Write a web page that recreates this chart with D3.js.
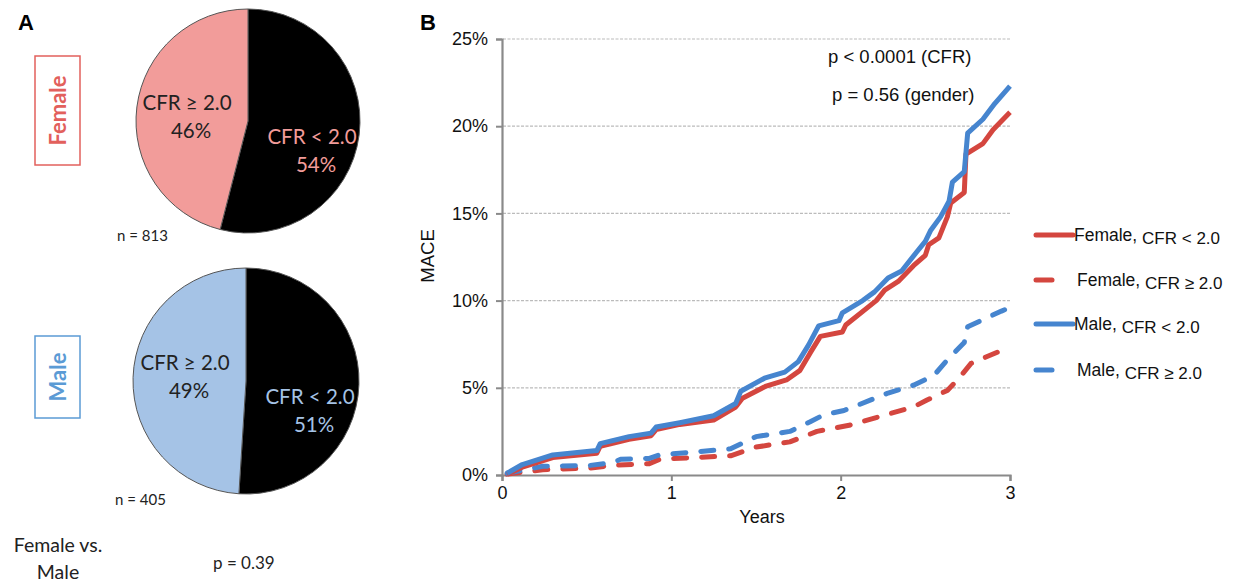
<!DOCTYPE html>
<html>
<head>
<meta charset="utf-8">
<script src="https://cdn.jsdelivr.net/npm/d3@7"></script>
<style>
body { margin: 0; background: #fff; }
svg { display: block; }
</style>
</head>
<body>
<svg id="chart" width="1240" height="584"></svg>
<script>
// panel A data
var pieCategories = ["CFR < 2.0", "CFR ≥ 2.0"];
var femaleShares = [54, 46];
var maleShares = [51, 49];
var femaleN = 813, maleN = 405;

// panel B data (years, MACE %)
var femaleLowYears = [0.03, 0.12, 0.3, 0.56, 0.58, 0.75, 0.88, 0.91, 1.05, 1.25, 1.38, 1.42, 1.56, 1.68, 1.76, 1.82, 1.88, 2.01, 2.03, 2.21, 2.26, 2.34, 2.43, 2.5, 2.52, 2.58, 2.63, 2.65, 2.73, 2.74, 2.84, 2.9, 3.0];
var femaleLowVals = [0.05, 0.45, 1.0, 1.25, 1.65, 2.05, 2.25, 2.6, 2.9, 3.15, 3.9, 4.4, 5.1, 5.45, 6.0, 7.0, 7.95, 8.2, 8.6, 10.0, 10.6, 11.1, 12.0, 12.6, 13.2, 13.6, 14.8, 15.6, 16.2, 18.4, 19.0, 19.8, 20.8];
var maleLowYears = [0.03, 0.12, 0.3, 0.56, 0.58, 0.75, 0.88, 0.91, 1.05, 1.25, 1.38, 1.41, 1.55, 1.67, 1.75, 1.81, 1.87, 1.99, 2.01, 2.13, 2.2, 2.28, 2.36, 2.45, 2.5, 2.53, 2.59, 2.64, 2.66, 2.73, 2.75, 2.84, 2.91, 3.0];
var maleLowVals = [0.1, 0.6, 1.15, 1.4, 1.8, 2.2, 2.4, 2.75, 3.0, 3.4, 4.1, 4.8, 5.55, 5.9, 6.5, 7.45, 8.55, 8.85, 9.3, 10.0, 10.5, 11.3, 11.7, 12.8, 13.4, 14.0, 14.8, 15.7, 16.8, 17.4, 19.6, 20.4, 21.3, 22.3];
var femaleHighYears = [0.03, 0.24, 0.52, 0.65, 0.87, 0.93, 1.35, 1.5, 1.7, 1.86, 2.05, 2.23, 2.43, 2.51, 2.63, 2.69, 2.77, 3.0];
var femaleHighVals = [0.05, 0.3, 0.4, 0.55, 0.65, 0.9, 1.1, 1.6, 1.9, 2.5, 2.85, 3.35, 3.9, 4.3, 4.85, 5.45, 6.4, 7.35];
var maleHighYears = [0.03, 0.24, 0.52, 0.65, 0.7, 0.87, 0.93, 1.35, 1.5, 1.7, 1.82, 1.9, 2.02, 2.1, 2.28, 2.43, 2.55, 2.63, 2.73, 2.75, 2.86, 2.95, 3.0];
var maleHighVals = [0.1, 0.5, 0.55, 0.7, 0.9, 0.95, 1.15, 1.5, 2.2, 2.5, 3.05, 3.45, 3.7, 4.0, 4.7, 5.15, 5.7, 6.6, 7.6, 8.5, 9.0, 9.4, 9.6];

var yTicks = [0, 5, 10, 15, 20, 25];
var xTicks = [0, 1, 2, 3];
var legendLabels = ["Female, ", "Female, ", "Male, ", "Male, "];
var legendSubs = ["CFR < 2.0", "CFR ≥ 2.0", "CFR < 2.0", "CFR ≥ 2.0"];

var RED = "#d4463f", BLUE = "#4685cf";
var svg = d3.select("#chart");
var sansA = "Lato, 'Open Sans', sans-serif";
var sansB = "'Liberation Sans', Arial, sans-serif";

// ---- panel A ----
svg.append("text").attr("x", 18).attr("y", 30).attr("font-family", sansB).attr("font-weight", "bold").attr("font-size", 22).text("A");

var pie = d3.pie().sort(null);
var arc = d3.arc().innerRadius(0);

function drawPie (cx, cy, r, shares, fill, textCol, n, nx, ny) {
	var g = svg.append("g").attr("transform", "translate(" + cx + "," + cy + ")");
	g.selectAll("path").data(pie(shares)).enter().append("path")
		.attr("d", arc.outerRadius(r))
		.attr("fill", function (d, i) { return i == 0 ? "#000" : fill; })
		.attr("stroke", "#555").attr("stroke-width", 1);
	// labels
	var lab = [{x: 64, y: 23, c: textCol}, {x: -61, y: -11, c: "#222"}];
	shares.forEach(function (s, i) {
		var t = g.append("text").attr("text-anchor", "middle").attr("font-family", sansA).attr("font-size", 20.5).attr("fill", lab[i].c);
		t.append("tspan").attr("x", lab[i].x).attr("y", lab[i].y).text(pieCategories[i]);
		t.append("tspan").attr("x", lab[i].x + 4).attr("y", lab[i].y + 28).text(s + "%");
	});
	svg.append("text").attr("x", nx).attr("y", ny).attr("font-family", sansA).attr("font-size", 15).attr("fill", "#222").text("n = " + n);
}
drawPie(248, 121, 112, femaleShares, "#f29c9a", "#f29c9a", femaleN, 117, 241);
drawPie(246, 381, 113, maleShares, "#a5c3e6", "#a5c3e6", maleN, 115, 505);

function sexBox (y0, h, label, col) {
	svg.append("rect").attr("x", 35).attr("y", y0).attr("width", 45).attr("height", h).attr("fill", "none").attr("stroke", col).attr("stroke-width", 1.5);
	svg.append("text").attr("transform", "translate(66," + (y0 + h / 2) + ") rotate(-90)").attr("text-anchor", "middle")
		.attr("font-family", sansA).attr("font-weight", "bold").attr("font-size", 22).attr("fill", col).text(label);
}
sexBox(56, 109, "Female", "#e2605c");
sexBox(336, 82, "Male", "#5b9bd5");

svg.append("text").attr("x", 58).attr("y", 552).attr("text-anchor", "middle").attr("font-family", sansA).attr("font-size", 19.5).attr("fill", "#222").text("Female vs.");
svg.append("text").attr("x", 58).attr("y", 579).attr("text-anchor", "middle").attr("font-family", sansA).attr("font-size", 19.5).attr("fill", "#222").text("Male");
svg.append("text").attr("x", 213).attr("y", 569).attr("font-family", sansA).attr("font-size", 17).attr("fill", "#222").text("p = 0.39");

// ---- panel B ----
svg.append("text").attr("x", 420).attr("y", 30).attr("font-family", sansB).attr("font-weight", "bold").attr("font-size", 22).text("B");

var x = d3.scaleLinear().domain([0, 3]).range([502, 1010]);
var y = d3.scaleLinear().domain([0, 25]).range([475, 39]);

svg.append("g").selectAll("line").data(yTicks.slice(1)).enter().append("line")
	.attr("x1", 503).attr("x2", 1010).attr("y1", function (d) { return y(d); }).attr("y2", function (d) { return y(d); })
	.attr("stroke", "#bbb").attr("stroke-width", 1.2).attr("stroke-dasharray", "3,1.5");

var yAxis = svg.append("g").attr("transform", "translate(502,0)")
	.call(d3.axisLeft(y).tickValues(yTicks).tickFormat(function (d) { return d + "%"; }).tickSize(6).tickPadding(8));
var xAxis = svg.append("g").attr("transform", "translate(0,475)")
	.call(d3.axisBottom(x).tickValues(xTicks).tickFormat(d3.format("d")).tickSize(6).tickPadding(5));
[yAxis, xAxis].forEach(function (a) {
	a.select(".domain").attr("stroke", "#8a8a8a").attr("stroke-width", 2.2);
	a.selectAll(".tick line").attr("stroke", "#8a8a8a").attr("stroke-width", 2);
	a.selectAll("text").attr("font-family", sansB).attr("font-size", 18).attr("fill", "#111");
});

svg.append("text").attr("transform", "translate(434,256) rotate(-90)").attr("text-anchor", "middle").attr("font-family", sansB).attr("font-size", 18.5).attr("fill", "#111").text("MACE");
svg.append("text").attr("x", 762).attr("y", 523).attr("text-anchor", "middle").attr("font-family", sansB).attr("font-size", 18).attr("fill", "#111").text("Years");

var line = d3.line().x(function (d) { return x(d[0]); }).y(function (d) { return y(d[1]); });
var series = [
	{xs: femaleHighYears, ys: femaleHighVals, c: RED, dash: true},
	{xs: maleHighYears, ys: maleHighVals, c: BLUE, dash: true},
	{xs: femaleLowYears, ys: femaleLowVals, c: RED, dash: false},
	{xs: maleLowYears, ys: maleLowVals, c: BLUE, dash: false}
];
series.forEach(function (s) {
	svg.append("path").datum(d3.zip(s.xs, s.ys)).attr("d", line).attr("fill", "none")
		.attr("stroke", s.c).attr("stroke-width", 5).attr("stroke-linejoin", "round")
		.attr("stroke-linecap", s.dash ? "round" : "butt")
		.attr("stroke-dasharray", s.dash ? "13,15" : null);
});

svg.append("text").attr("x", 828).attr("y", 63).attr("font-family", sansB).attr("font-size", 18.5).attr("fill", "#111").text("p < 0.0001 (CFR)");
svg.append("text").attr("x", 832).attr("y", 101).attr("font-family", sansB).attr("font-size", 18.5).attr("fill", "#111").text("p = 0.56 (gender)");

// legend
var legY = [235, 280, 324, 370];
var legCol = [RED, RED, BLUE, BLUE];
legY.forEach(function (ly, i) {
	var dashed = i % 2 == 1;
	svg.append("line").attr("x1", 1036).attr("x2", dashed ? 1052 : 1073).attr("y1", ly).attr("y2", ly)
		.attr("stroke", legCol[i]).attr("stroke-width", 5).attr("stroke-linecap", "round");
	var t = svg.append("text").attr("x", dashed ? 1077 : 1074).attr("y", ly + 6).attr("font-family", sansB).attr("font-size", 17.5).attr("fill", "#111");
	t.append("tspan").text(legendLabels[i]);
	t.append("tspan").attr("dy", 3).attr("font-size", 17).text(legendSubs[i]);
});
</script>
</body>
</html>
